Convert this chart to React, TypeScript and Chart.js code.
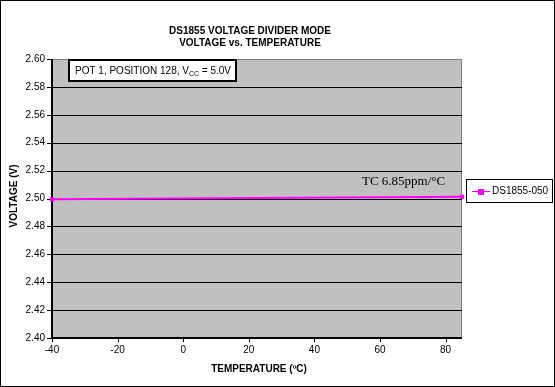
import React, { useEffect, useRef } from "react";
import { Chart, registerables } from "chart.js";

Chart.register(...registerables);

const titleLines = ["DS1855 VOLTAGE DIVIDER MODE", "VOLTAGE vs. TEMPERATURE"];
const xTitle = "TEMPERATURE (ºC)";
const yTitle = "VOLTAGE (V)";
const seriesName = "DS1855-050";
const temperatures = [-40, 85];
const voltages = [2.4994, 2.5012];
const xTicks = [-40, -20, 0, 20, 40, 60, 80];
const yMin = 2.4;
const yMax = 2.6;
const yStep = 0.02;
const tcText = "TC 6.85ppm/°C";

const FONT = "'Liberation Sans', Arial, sans-serif";

const decor = {
  id: "decor",
  beforeDraw(chart: any) {
    const { ctx, chartArea: a, width, height } = chart;
    ctx.save();
    ctx.fillStyle = "#ffffff";
    ctx.fillRect(0, 0, width, height);
    ctx.fillStyle = "#c0c0c0";
    ctx.fillRect(a.left, a.top, a.right - a.left, a.bottom - a.top);
    ctx.strokeStyle = "#808080";
    ctx.lineWidth = 1;
    ctx.strokeRect(a.left + 0.5, a.top + 0.5, a.right - a.left - 1, a.bottom - a.top);
    ctx.restore();
  },
  beforeDatasetsDraw(chart: any) {
    const { ctx, chartArea: a } = chart;
    const ys = chart.scales.y;
    const xs = chart.scales.x;
    ctx.save();
    ctx.strokeStyle = "#000";
    ctx.lineWidth = 1;
    ctx.beginPath();
    for (const t of ys.ticks) {
      const py = Math.round(ys.getPixelForValue(t.value)) + 0.5;
      ctx.moveTo(a.left - 5, py);
      ctx.lineTo(t.value >= yMax - 1e-9 ? a.left : a.right, py);
    }
    for (const v of xTicks) {
      const px = Math.round(xs.getPixelForValue(v)) + 0.5;
      ctx.moveTo(px, a.bottom);
      ctx.lineTo(px, a.bottom + 4);
    }
    ctx.stroke();
    ctx.lineWidth = 2;
    ctx.beginPath();
    ctx.moveTo(a.left, a.top);
    ctx.lineTo(a.left, a.bottom);
    ctx.lineTo(a.right, a.bottom);
    ctx.stroke();
    ctx.restore();
  },
  afterDraw(chart: any) {
    const { ctx, width, height } = chart;
    ctx.save();
    ctx.strokeStyle = "#000";
    ctx.lineWidth = 1;
    ctx.strokeRect(0.5, 0.5, width - 1, height - 1);
    ctx.fillStyle = "#000";
    ctx.textAlign = "center";
    ctx.textBaseline = "middle";
    ctx.font = `bold 10px ${FONT}`;
    ctx.fillText(titleLines[0], 250, 31);
    ctx.fillText(titleLines[1], 250, 43);
    ctx.fillText(xTitle, 259, 369);
    ctx.save();
    ctx.translate(14, 196);
    ctx.rotate(-Math.PI / 2);
    ctx.fillText(yTitle, 0, 0);
    ctx.restore();
    // annotation box
    ctx.fillStyle = "#fff";
    ctx.fillRect(69, 60, 167, 21);
    ctx.strokeStyle = "#000";
    ctx.lineWidth = 2;
    ctx.strokeRect(69, 60, 167, 21);
    ctx.fillStyle = "#000";
    ctx.textAlign = "left";
    ctx.font = `10px ${FONT}`;
    let x = 75;
    const y = 71;
    const p1 = "POT 1, POSITION 128, V";
    ctx.fillText(p1, x, y);
    x += ctx.measureText(p1).width;
    ctx.font = `7px ${FONT}`;
    ctx.fillText("CC", x, y + 3);
    x += ctx.measureText("CC").width;
    ctx.font = `10px ${FONT}`;
    ctx.fillText(" = 5.0V", x, y);
    // TC text
    ctx.font = `13px 'Liberation Serif', 'Times New Roman', serif`;
    ctx.fillText(tcText, 362, 182);
    // legend
    ctx.fillStyle = "#fff";
    ctx.fillRect(466, 179, 86, 23);
    ctx.strokeStyle = "#000";
    ctx.lineWidth = 1;
    ctx.strokeRect(466.5, 179.5, 86, 23);
    ctx.strokeStyle = "#ff00ff";
    ctx.beginPath();
    ctx.moveTo(472, 191.5);
    ctx.lineTo(490, 191.5);
    ctx.stroke();
    ctx.fillStyle = "#ff00ff";
    ctx.fillRect(478, 189, 6, 6);
    ctx.fillStyle = "#000";
    ctx.font = `10px ${FONT}`;
    ctx.fillText(seriesName, 492, 191);
    ctx.restore();
  },
};

export default function App() {
  const ref = useRef<HTMLCanvasElement>(null);
  useEffect(() => {
    document.body.style.margin = "0";
    const c = new Chart(ref.current!, {
      type: "line",
      data: {
        datasets: [
          {
            label: seriesName,
            data: temperatures.map((t, i) => ({ x: t, y: voltages[i] })),
            borderColor: "#ff00ff",
            backgroundColor: "#ff00ff",
            borderWidth: 2,
            pointStyle: "rect",
            pointRadius: 3,
            pointBorderWidth: 0,
            clip: false as any,
          },
        ],
      },
      options: {
        animation: false,
        responsive: false,
        devicePixelRatio: 1,
        layout: { padding: { left: 0, top: 59, right: 93, bottom: 0 } },
        plugins: { legend: { display: false }, tooltip: { enabled: false }, title: { display: false } },
        scales: {
          x: {
            type: "linear",
            min: -40,
            max: 85,
            afterFit(s: any) {
              s.height = 49;
            },
            afterBuildTicks(s: any) {
              s.ticks = xTicks.map((v) => ({ value: v }));
            },
            ticks: { font: { family: FONT, size: 10 }, color: "#000", padding: 2, maxRotation: 0, autoSkip: false },
            grid: { drawOnChartArea: false, drawTicks: true, tickLength: 4, color: "rgba(0,0,0,0)" },
            border: { display: false },
          },
          y: {
            type: "linear",
            min: yMin,
            max: yMax,
            afterFit(s: any) {
              s.width = 52;
            },
            ticks: {
              stepSize: yStep,
              font: { family: FONT, size: 10 },
              color: "#000",
              padding: 2,
              callback: (v: any) => Number(v).toFixed(2),
            },
            grid: { color: "rgba(0,0,0,0)", lineWidth: 1, tickLength: 5 },
            border: { display: false },
          },
        },
      },
      plugins: [decor],
    });
    return () => c.destroy();
  }, []);
  return <canvas ref={ref} width={555} height={387} style={{ display: "block" }} />;
}
